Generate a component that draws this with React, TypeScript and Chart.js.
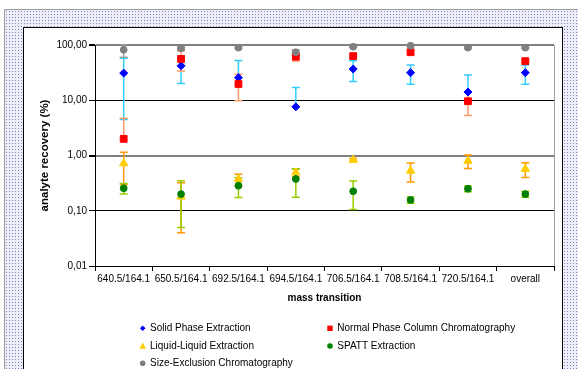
import React, { useEffect, useRef } from 'react';
import { Chart, registerables } from 'chart.js';

Chart.register(...registerables);

const categories = ['640.5/164.1', '650.5/164.1', '692.5/164.1', '694.5/164.1', '706.5/164.1', '708.5/164.1', '720.5/164.1', 'overall'];
const yTickValues = [0.01, 0.1, 1, 10, 100];

const seriesNames = ['Solid Phase Extraction', 'Normal Phase Column Chromatography', 'Liquid-Liquid Extraction', 'SPATT Extraction', 'Size-Exclusion Chromatography'];

const speValues = [31, 42, 25.6, 7.6, 36.8, 31.5, 14.1, 31.5];
const speErrors = [26.5, 22, 27, 9.5, 15, 12, 14.5, 12];

const npccValues = [2.0, 56, 19.7, 61.5, 63, 74, 9.6, 51];
const npccErrors = [2.7, 22, 9.9, 10, 5, 5, 4.3, 3];

const lleValues = [0.72, 0.18, 0.37, 0.49, 0.83, 0.53, 0.8, 0.57];
const lleErrors = [0.42, 0.14, 0.09, 0.08, 0.05, 0.2, 0.22, 0.17];

const spattValues = [0.255, 0.2, 0.284, 0.376, 0.225, 0.157, 0.25, 0.2];
const spattErrors = [0.055, 0.15, 0.11, 0.2, 0.12, 0.02, 0.03, 0.025];

const secValues = [82, 87, 89.5, 74, 93, 97, 89.5, 89.5];
const secErrors = [22, 5, 4, 8, 3, 3, 3, 3];

const FONT = "'Liberation Sans', Arial, sans-serif";

const markerColors = ['#0000FF', '#FF0000', '#FFCC00', '#008000', '#808080'];
const errorColors = ['#33CCFF', '#FF9966', '#FF9900', '#99CC00', '#A0A0A0'];
const markerStyles = ['rectRot', 'rect', 'triangle', 'circle', 'circle'];
const markerRadii = [4, 4.8, 4.8, 3.4, 3.4];

function drawMarker(ctx: CanvasRenderingContext2D, style: string, x: number, y: number, r: number, color: string) {
  ctx.fillStyle = color;
  ctx.beginPath();
  if (style === 'rectRot') {
    ctx.moveTo(x, y - r);
    ctx.lineTo(x + r, y);
    ctx.lineTo(x, y + r);
    ctx.lineTo(x - r, y);
    ctx.closePath();
  } else if (style === 'rect') {
    ctx.rect(x - r, y - r, 2 * r, 2 * r);
  } else if (style === 'triangle') {
    ctx.moveTo(x, y - r);
    ctx.lineTo(x + r, y + r * 0.8);
    ctx.lineTo(x - r, y + r * 0.8);
    ctx.closePath();
  } else {
    ctx.arc(x, y, r, 0, Math.PI * 2);
  }
  ctx.fill();
}

const errorBarPlugin = {
  id: 'errorBars',
  beforeDatasetsDraw(chart: any) {
    const ctx = chart.ctx as CanvasRenderingContext2D;
    const xs = chart.scales.x;
    const ys = chart.scales.y;
    const area = chart.chartArea;
    ctx.save();
    ctx.strokeStyle = '#A0A0A0';
    ctx.lineWidth = 1;
    ctx.beginPath();
    ctx.moveTo(Math.round(area.right) + 0.5, area.top);
    ctx.lineTo(Math.round(area.right) + 0.5, area.bottom);
    ctx.stroke();

    ctx.beginPath();
    ctx.rect(area.left, area.top - 1, area.right - area.left, area.bottom - area.top + 1);
    ctx.clip();
    const cap = 4;
    chart.data.datasets.forEach((ds: any) => {
      ctx.strokeStyle = ds.errorColor;
      ctx.lineWidth = 1.5;
      ds.data.forEach((v: number, j: number) => {
        const e = ds.errors[j];
        const px = xs.getPixelForValue(j);
        const py = ys.getPixelForValue(v);
        const top = ys.getPixelForValue(v + e);
        ctx.beginPath();
        ctx.moveTo(px, py);
        ctx.lineTo(px, top);
        ctx.moveTo(px - cap, top);
        ctx.lineTo(px + cap, top);
        if (v - e > 0) {
          const bot = ys.getPixelForValue(v - e);
          ctx.moveTo(px, py);
          ctx.lineTo(px, bot);
          ctx.moveTo(px - cap, bot);
          ctx.lineTo(px + cap, bot);
        }
        ctx.stroke();
      });
    });
    ctx.restore();
  },
};

const legendPlugin = {
  id: 'customLegend',
  afterDraw(chart: any) {
    const ctx = chart.ctx as CanvasRenderingContext2D;
    const cols = [118.7, 306];
    const rows = [300.3, 318, 335.3];
    const legendSizes = [2.8, 2.7, 3.4, 2.8, 2.8];
    ctx.save();
    ctx.font = `10px ${FONT}`;
    ctx.textBaseline = 'middle';
    ctx.textAlign = 'left';
    seriesNames.forEach((name, i) => {
      const cx = cols[i % 2];
      const cy = rows[Math.floor(i / 2)];
      drawMarker(ctx, markerStyles[i], cx, cy, legendSizes[i], markerColors[i]);
      ctx.fillStyle = '#000';
      ctx.fillText(name, cx + 7.3, cy);
    });
    ctx.restore();
  },
};

export default function App() {
  const canvasRef = useRef<HTMLCanvasElement | null>(null);

  useEffect(() => {
    if (!canvasRef.current) return;
    const valueSets = [speValues, npccValues, lleValues, spattValues, secValues];
    const errorSets = [speErrors, npccErrors, lleErrors, spattErrors, secErrors];
    const datasets = seriesNames.map((name, i) => ({
      label: name,
      data: valueSets[i],
      errors: errorSets[i],
      errorColor: errorColors[i],
      showLine: false,
      pointStyle: markerStyles[i],
      pointRadius: markerRadii[i],
      pointBackgroundColor: markerColors[i],
      pointBorderColor: markerColors[i],
      pointBorderWidth: 1,
      borderColor: markerColors[i],
      backgroundColor: markerColors[i],
      clip: false,
      order: 4 - i,
    }));

    const chart = new Chart(canvasRef.current, {
      type: 'line',
      data: { labels: categories, datasets: datasets as any },
      options: {
        responsive: false,
        animation: false,
        events: [],
        layout: { padding: { left: 0, right: 8, top: 17, bottom: 65 } },
        plugins: {
          legend: { display: false },
          tooltip: { enabled: false },
        },
        scales: {
          x: {
            type: 'category',
            offset: true,
            grid: { offset: true, drawOnChartArea: false, drawTicks: true, tickLength: 5, color: '#000' },
            border: { color: '#000', width: 1 },
            ticks: { font: { family: FONT, size: 10 }, color: '#000', padding: 2, maxRotation: 0, autoSkip: false },
            title: {
              display: true,
              text: 'mass transition',
              font: { family: FONT, size: 10, weight: 'bold' },
              color: '#000',
              padding: { top: 0, bottom: 0 },
            },
            afterFit: (s: any) => { s.height = 38; },
          },
          y: {
            type: 'logarithmic',
            min: 0.01,
            max: 100,
            afterBuildTicks: (s: any) => { s.ticks = yTickValues.map((v) => ({ value: v })); },
            ticks: {
              callback: (v: any) => Number(v).toFixed(2).replace('.', ','),
              font: { family: FONT, size: 10 },
              color: '#000',
              padding: 2,
              autoSkip: false,
            },
            grid: {
              color: (c: any) => (c.tick && (c.tick.value === 100 || c.tick.value === 1) ? '#808080' : '#000'),
              lineWidth: (c: any) => (c.tick && (c.tick.value === 100 || c.tick.value === 1) ? 2 : 1),
              tickColor: '#000',
              tickLength: 6,
            },
            border: { color: '#000', width: 1 },
            title: {
              display: true,
              text: 'analyte recovery (%)',
              font: { family: FONT, size: 11.5, weight: 'bold' },
              color: '#000',
              padding: { top: 14, bottom: 0 },
            },
            afterFit: (s: any) => { s.width = 71; },
          },
        },
      } as any,
      plugins: [errorBarPlugin, legendPlugin],
    });
    return () => chart.destroy();
  }, []);

  const dots: React.CSSProperties = {
    backgroundColor: '#eeeef8',
    backgroundImage: 'radial-gradient(circle, #8080c4 0.75px, transparent 1px)',
    backgroundSize: '3px 3px',
  };

  return (
    <div style={{ position: 'fixed', left: 0, top: 0, width: 578, height: 369, overflow: 'hidden', background: '#fff' }}>
      <div style={{ position: 'absolute', left: 4, top: 9, width: 580, height: 370, borderLeft: '1px solid #999', borderTop: '1px solid #999', ...dots }} />
      <div style={{ position: 'absolute', left: 23, top: 27, width: 538, height: 350, border: '1px solid #000', background: '#fff' }} />
      <canvas ref={canvasRef} width={538} height={341} style={{ position: 'absolute', left: 24, top: 28, width: 538, height: 341 }} />
    </div>
  );
}
